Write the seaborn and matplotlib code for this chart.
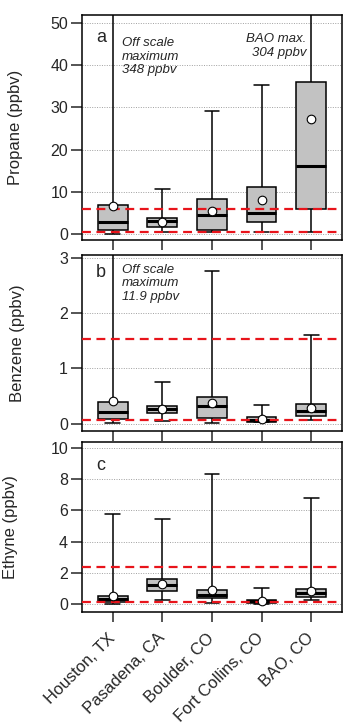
import matplotlib
matplotlib.use('Agg')
import matplotlib.pyplot as plt
import seaborn as sns
import numpy as np
import pandas as pd

sns.set_style('ticks')
plt.rcParams['font.family'] = ['Liberation Sans', 'DejaVu Sans']

sites = ['Houston, TX', 'Pasadena, CA', 'Boulder, CO', 'Fort Collins, CO', 'BAO, CO']

# box stats per site: whisker low, q1, median, q3, whisker high, mean
propane_lo = [0.1, 0.4, 0.4, 0.4, 0.4]
propane_q1 = [1.0, 1.8, 1.0, 2.8, 5.9]
propane_med = [2.8, 3.1, 4.6, 5.0, 16.2]
propane_q3 = [6.9, 3.7, 8.2, 11.1, 36.0]
propane_hi = [348, 10.8, 29.2, 35.3, 304]
propane_mean = [6.6, 2.9, 5.4, 8.0, 27.2]
propane_refs = [6.05, 0.4]

benzene_lo = [0.01, 0.05, 0.02, 0.03, 0.07]
benzene_q1 = [0.09, 0.19, 0.11, 0.03, 0.14]
benzene_med = [0.21, 0.26, 0.33, 0.07, 0.23]
benzene_q3 = [0.40, 0.33, 0.49, 0.12, 0.35]
benzene_hi = [11.9, 0.75, 2.76, 0.34, 1.61]
benzene_mean = [0.41, 0.26, 0.38, 0.09, 0.28]
benzene_refs = [1.54, 0.06]

ethyne_lo = [0.02, 0.23, 0.06, 0.02, 0.28]
ethyne_q1 = [0.11, 0.85, 0.38, 0.10, 0.47]
ethyne_med = [0.32, 1.21, 0.60, 0.19, 0.70]
ethyne_q3 = [0.51, 1.60, 0.87, 0.28, 0.98]
ethyne_hi = [5.77, 5.43, 8.32, 1.02, 6.81]
ethyne_mean = [0.49, 1.30, 0.89, 0.17, 0.83]
ethyne_refs = [2.36, 0.11]

panels = [
    dict(name='Propane (ppbv)', letter='a', stats=[propane_lo, propane_q1, propane_med, propane_q3, propane_hi],
         mean=propane_mean, refs=propane_refs, ylim=(-1.4, 51.9), ticks=np.arange(0, 51, 10),
         labx=-0.225, lety=0.90),
    dict(name='Benzene (ppbv)', letter='b', stats=[benzene_lo, benzene_q1, benzene_med, benzene_q3, benzene_hi],
         mean=benzene_mean, refs=benzene_refs, ylim=(-0.13, 3.05), ticks=np.arange(0, 4, 1),
         labx=-0.22, lety=0.90),
    dict(name='Ethyne (ppbv)', letter='c', stats=[ethyne_lo, ethyne_q1, ethyne_med, ethyne_q3, ethyne_hi],
         mean=ethyne_mean, refs=ethyne_refs, ylim=(-0.51, 10.38), ticks=np.arange(0, 11, 2),
         labx=-0.245, lety=0.86),
]

fig = plt.figure(figsize=(3.43, 7.28), dpi=100)
# [left, bottom, width, height] in figure fraction
boxes = [[0.239, 0.6703, 0.758, 0.3091],
         [0.239, 0.4080, 0.758, 0.2417],
         [0.239, 0.1593, 0.758, 0.2336]]

for i, (p, pos) in enumerate(zip(panels, boxes)):
    ax = fig.add_axes(pos)
    df = pd.DataFrame({
        'site': np.repeat(sites, 5),
        'value': np.array(p['stats']).T.ravel(),
    })
    sns.boxplot(data=df, x='site', y='value', order=sites, whis=(0, 100), width=0.6,
                color='#c2c2c2', linecolor='black', linewidth=1.1, saturation=1,
                medianprops=dict(linewidth=2.2, color='black'), ax=ax)
    sns.stripplot(x=sites, y=p['mean'], order=sites, jitter=False, size=6.2, color='white',
                  edgecolor='black', linewidth=0.8, zorder=6, ax=ax)
    for r in p['refs']:
        ax.axhline(r, color='#e8141b', linestyle=(0, (4, 2.5)), linewidth=1.6, zorder=5)

    ax.set_xlim(-0.62, 4.62)
    ax.set_ylim(*p['ylim'])
    ax.set_yticks(p['ticks'])
    ax.yaxis.grid(True, linestyle=(0, (1, 1.5)), color='#a0a0a0', linewidth=0.7)
    ax.set_axisbelow(True)
    for s in ax.spines.values():
        s.set_visible(True)
        s.set_linewidth(1.1)
        s.set_color('black')
    ax.tick_params(axis='y', length=8, width=1.1, labelsize=11.5, pad=2)
    ax.tick_params(axis='x', length=7, width=1.1, labelsize=12, pad=10)
    ax.set_xlabel('')
    ax.set_ylabel(p['name'], fontsize=12)
    ax.yaxis.set_label_coords(p['labx'], 0.5)
    if i < 2:
        ax.tick_params(labelbottom=False)
    else:
        ax.set_xticks(range(len(sites)))
        ax.set_xticklabels(sites, rotation=45, ha='right', va='center', rotation_mode='anchor')
    ax.text(0.055, p['lety'], p['letter'], transform=ax.transAxes, fontsize=13, va='center')

ax_a, ax_b = fig.axes[0], fig.axes[1]
ax_a.text(0.153, 0.815, 'Off scale\nmaximum\n348 ppbv', transform=ax_a.transAxes, fontsize=9.5,
          style='italic', va='center', linespacing=1.15)
ax_a.text(0.862, 0.862, 'BAO max.\n304 ppbv', transform=ax_a.transAxes, fontsize=9.5,
          style='italic', va='center', ha='right', linespacing=1.15)
ax_b.text(0.153, 0.84, 'Off scale\nmaximum\n11.9 ppbv', transform=ax_b.transAxes, fontsize=9.5,
          style='italic', va='center', linespacing=1.15)

fig.savefig('out.png', dpi=100)
